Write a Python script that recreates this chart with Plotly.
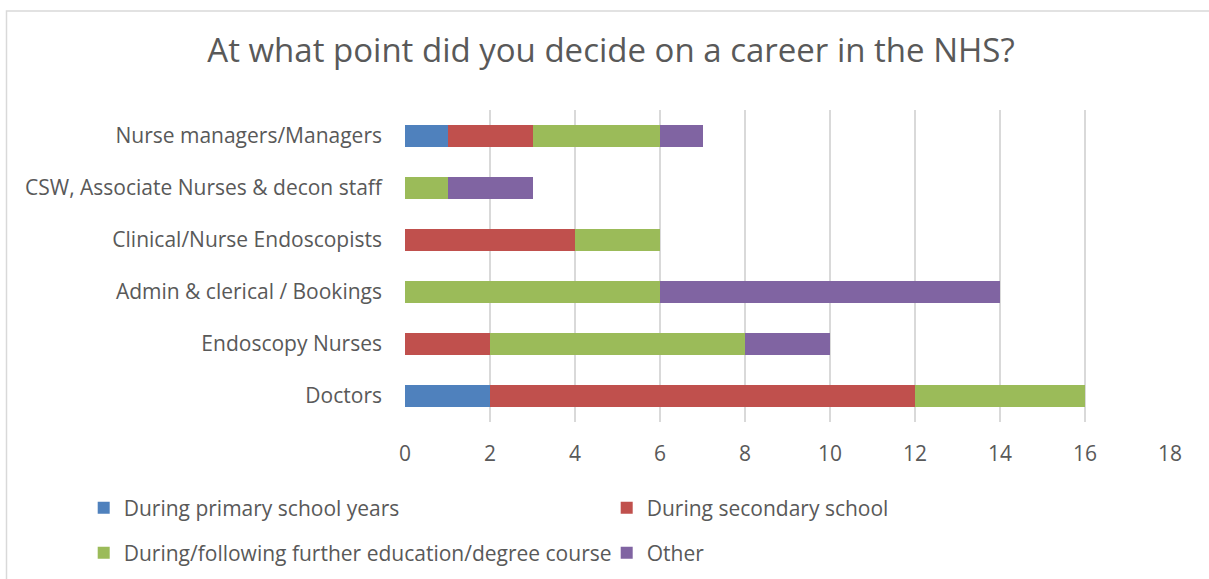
import plotly.graph_objects as go

categories = ["Doctors", "Endoscopy Nurses", "Admin & clerical / Bookings",
              "Clinical/Nurse Endoscopists", "CSW, Associate Nurses & decon staff",
              "Nurse managers/Managers"]
primary = [2, 0, 0, 0, 0, 1]
secondary = [10, 2, 0, 4, 0, 2]
further = [4, 6, 6, 2, 1, 3]
other = [0, 2, 8, 0, 2, 1]
series_names = ["During primary school years", "During secondary school",
                "During/following further education/degree course", "Other"]
colors = ["#4F81BD", "#C0504D", "#9BBB59", "#8064A2"]
x_ticks = [0, 2, 4, 6, 8, 10, 12, 14, 16, 18]

FONT = "Open Sans"
TXT = "#595959"

fig = go.Figure()
legends = ["legend", "legend", "legend2", "legend2"]
for name, vals, col, lg in zip(series_names, [primary, secondary, further, other], colors, legends):
    fig.add_trace(go.Bar(y=categories, x=vals, name=name, orientation="h",
                         marker=dict(color=col, line=dict(width=0)), legend=lg))

fig.update_layout(
    barmode="stack",
    bargap=0.57,
    width=1209, height=579,
    margin=dict(l=405, r=39, t=110, b=157, autoexpand=False),
    paper_bgcolor="white", plot_bgcolor="white",
    font=dict(family=FONT, color=TXT, size=21),
    title=dict(text="At what point did you decide on a career in the NHS?",
               x=611 / 1209, xanchor="center", y=1 - 50 / 579, yanchor="middle",
               font=dict(family=FONT, size=33, color=TXT)),
    xaxis=dict(range=[0, 18], tickvals=x_ticks, showgrid=True, gridcolor="#D9D9D9",
               gridwidth=2, zeroline=False, showline=False, ticks="",
               ticklabelstandoff=17, tickfont=dict(size=21, color=TXT, family=FONT)),
    yaxis=dict(showgrid=False, zeroline=False, showline=False, ticks="",
               ticklabelstandoff=22, tickfont=dict(size=21, color=TXT, family=FONT)),
    legend=dict(orientation="h", x=-0.42, xanchor="left", y=(422 - 508) / 312, yanchor="middle",
                entrywidth=478, entrywidthmode="pixels", traceorder="normal",
                font=dict(size=21, color=TXT, family=FONT), itemwidth=30),
    legend2=dict(orientation="h", x=-0.42, xanchor="left", y=(422 - 553) / 312, yanchor="middle",
                 entrywidth=478, entrywidthmode="pixels", traceorder="normal",
                 font=dict(size=21, color=TXT, family=FONT), itemwidth=30),
    shapes=[dict(type="rect", xref="paper", yref="paper",
                 x0=(6.5 - 405) / 765, x1=(1220 - 405) / 765,
                 y0=(422 - 590) / 312, y1=(422 - 11) / 312,
                 line=dict(color="#D9D9D9", width=1.5), fillcolor="rgba(0,0,0,0)",
                 layer="below")],
)

fig.write_html("out.html", config={"displayModeBar": False},
               post_script="document.body.style.margin='0';")
